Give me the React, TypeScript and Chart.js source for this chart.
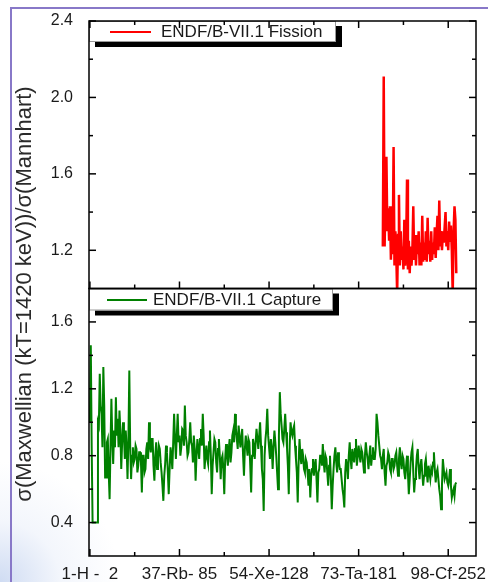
import React, { useEffect, useRef } from 'react';
import { Chart, registerables } from 'chart.js';

Chart.register(...registerables);

// ---- data ----
const X_MAJOR = [0, 100, 200, 300, 400];
const X_MINOR = [50, 150, 250, 350];
const X_LABELS = ['1-H -  2', '37-Rb- 85', '54-Xe-128', '73-Ta-181', '98-Cf-252'];

const TOP_MAJOR = [1.2, 1.6, 2.0, 2.4];
const TOP_MINOR = [1.4, 1.8, 2.2];
const BOT_MAJOR = [0.4, 0.8, 1.2, 1.6];
const BOT_MINOR = [0.6, 1.0, 1.4];

const Y_TITLE = 'σ(Maxwellian (kT=1420 keV))/σ(Mannhart)';
const FISSION_LABEL = 'ENDF/B-VII.1 Fission';
const CAPTURE_LABEL = 'ENDF/B-VII.1 Capture';

// material index of the first point (one value per material)
const CAPTURE_START = 0;
const CAPTURE = [
  1.00, 1.46, 0.85, 0.40, 0.40, 0.40, 0.40, 0.40, 0.40, 1.00, 0.98, 1.29, 1.10, 1.05, 0.85, 1.33, 1.10, 0.67, 0.67, 0.88,
  0.90, 0.70, 0.54, 0.85, 1.14, 0.90, 0.75, 0.95, 0.85, 1.15, 0.92, 1.02, 0.85, 1.07, 0.95, 0.72, 0.88, 1.00, 0.92, 0.78,
  0.95, 0.85, 0.66, 0.90, 1.31, 0.85, 0.66, 0.80, 0.85, 0.76, 0.78, 0.86, 0.84, 0.70, 0.74, 0.82, 0.82, 0.76, 0.58, 0.80,
  0.80, 0.70, 0.72, 0.84, 0.88, 0.78, 1.00, 0.86, 0.82, 0.90, 0.90, 0.74, 0.65, 0.80, 0.88, 0.72, 0.78, 0.86, 0.84, 0.76,
  0.70, 0.62, 0.53, 0.68, 0.75, 0.86, 0.82, 0.70, 0.57, 0.72, 0.85, 0.80, 0.72, 0.88, 1.05, 0.90, 0.78, 0.92, 1.05, 0.88,
  0.92, 0.80, 0.85, 0.96, 0.95, 0.86, 1.10, 0.92, 0.88, 0.80, 0.82, 0.90, 1.00, 0.88, 0.86, 0.76, 0.92, 0.84, 0.65, 0.80,
  0.90, 0.84, 0.78, 0.90, 0.96, 0.86, 1.05, 0.92, 0.72, 0.80, 0.86, 0.78, 0.75, 0.88, 0.95, 0.80, 0.57, 0.74, 0.82, 0.90,
  0.88, 0.76, 0.70, 0.84, 0.90, 0.80, 0.66, 0.78, 0.80, 0.72, 0.57, 0.78, 0.87, 0.80, 0.74, 0.84, 0.90, 0.76, 0.82, 0.92,
  0.95, 0.88, 1.05, 0.96, 0.90, 0.84, 0.98, 0.92, 0.85, 0.90, 0.96, 0.80, 0.68, 0.84, 0.92, 0.86, 0.80, 0.90, 0.88, 0.74,
  0.58, 0.80, 0.90, 0.86, 0.78, 0.88, 0.96, 0.90, 0.84, 0.92, 1.00, 0.86, 0.72, 0.66, 0.47, 0.80, 0.90, 0.96, 1.08, 0.92,
  0.85, 0.78, 0.90, 0.84, 0.72, 0.86, 0.95, 0.88, 0.80, 0.70, 0.60, 0.92, 1.18, 1.05, 0.98, 0.90, 0.88, 0.96, 1.05, 0.94,
  0.85, 0.74, 0.57, 0.86, 1.00, 0.94, 0.92, 0.96, 0.98, 0.86, 0.78, 0.70, 0.52, 0.76, 0.90, 0.80, 0.75, 0.84, 0.80, 0.72,
  0.70, 0.78, 0.76, 0.70, 0.62, 0.72, 0.55, 0.68, 0.72, 0.78, 0.68, 0.74, 0.78, 0.66, 0.52, 0.70, 0.72, 0.80, 0.80, 0.74,
  0.87, 0.76, 0.70, 0.80, 0.78, 0.70, 0.62, 0.74, 0.80, 0.66, 0.48, 0.62, 0.72, 0.80, 0.85, 0.76, 0.70, 0.82, 0.76, 0.72,
  0.72, 0.66, 0.60, 0.56, 0.49, 0.70, 0.78, 0.74, 0.66, 0.80, 0.88, 0.78, 0.72, 0.84, 0.80, 0.76, 0.84, 0.90, 0.74, 0.80,
  0.86, 0.80, 0.76, 0.84, 0.82, 0.76, 0.70, 0.80, 0.88, 0.82, 0.78, 0.72, 0.80, 0.86, 0.74, 0.80, 0.85, 0.78, 0.78, 0.84,
  1.05, 1.00, 0.92, 0.86, 0.80, 0.78, 0.72, 0.80, 0.84, 0.70, 0.62, 0.74, 0.76, 0.82, 0.80, 0.72, 0.70, 0.78, 0.78, 0.72,
  0.74, 0.80, 0.82, 0.74, 0.68, 0.78, 0.85, 0.76, 0.72, 0.80, 0.78, 0.70, 0.66, 0.74, 0.80, 0.70, 0.57, 0.66, 0.76, 0.82,
  0.85, 0.70, 0.58, 0.66, 0.72, 0.80, 0.84, 0.72, 0.66, 0.74, 0.78, 0.70, 0.62, 0.68, 0.75, 0.78, 0.70, 0.64, 0.74, 0.70,
  0.66, 0.72, 0.70, 0.76, 0.82, 0.72, 0.64, 0.70, 0.72, 0.66, 0.60, 0.56, 0.48, 0.62, 0.78, 0.72, 0.66, 0.68, 0.70, 0.64,
  0.62, 0.66, 0.72, 0.62, 0.55, 0.58, 0.60, 0.56, 0.63, 0.64,
];

const FISSION_START = 327;
const FISSION = [
  1.22, 2.11, 1.22, 1.50, 1.69, 1.30, 1.42, 1.25, 1.43, 1.15,
  1.32, 1.18, 1.74, 1.12, 1.30, 1.18, 0.97, 1.28, 1.49, 1.12,
  1.30, 1.15, 1.22, 1.10, 1.36, 1.12, 1.20, 1.57, 1.10, 1.25,
  1.08, 1.22, 1.12, 1.20, 1.43, 1.15, 1.28, 1.12, 1.25, 1.18,
  1.30, 1.12, 1.24, 1.12, 1.38, 1.14, 1.24, 1.15, 1.30, 1.14,
  1.37, 1.18, 1.25, 1.14, 1.30, 1.15, 1.24, 1.18, 1.32, 1.16,
  1.28, 1.38, 1.20, 1.46, 1.22, 1.30, 1.20, 1.28, 1.24, 1.32,
  1.40, 1.22, 1.30, 1.20, 1.35, 1.25, 1.33, 1.20, 0.97, 1.30,
  1.43, 1.36, 1.08,
];

const FONT = '"Liberation Sans", Arial, sans-serif';

const decorPlugin = {
  id: 'decor',
  afterDraw(chart: any) {
    const ctx = chart.ctx as CanvasRenderingContext2D;
    const xs = chart.scales.x;
    const yTop = chart.scales.yTop;
    const yBot = chart.scales.yBot;
    const L = xs.left;
    const R = xs.right;

    ctx.save();

    // legends
    const legends = [
      { s: yTop, text: FISSION_LABEL, color: '#ff0000', w: 247, h: 21, l0: 21, l1: 62, tx: 72 },
      { s: yBot, text: CAPTURE_LABEL, color: '#008000', w: 244, h: 22, l0: 18, l1: 58, tx: 64 },
    ];
    for (const lg of legends) {
      const x0 = L;
      const y0 = lg.s.top;
      ctx.fillStyle = '#000';
      ctx.fillRect(x0 + 6, y0 + 5, lg.w, lg.h);
      ctx.fillStyle = '#fff';
      ctx.fillRect(x0, y0, lg.w, lg.h);
      ctx.strokeStyle = '#9a9a9a';
      ctx.lineWidth = 1;
      ctx.strokeRect(x0 + 0.5, y0 + 0.5, lg.w - 1, lg.h - 1);
      ctx.strokeStyle = lg.color;
      ctx.lineWidth = 2;
      ctx.beginPath();
      ctx.moveTo(x0 + lg.l0, y0 + lg.h / 2 + 0.5);
      ctx.lineTo(x0 + lg.l1, y0 + lg.h / 2 + 0.5);
      ctx.stroke();
      ctx.fillStyle = '#1a1a1a';
      ctx.font = `17px ${FONT}`;
      ctx.textAlign = 'left';
      ctx.textBaseline = 'middle';
      ctx.fillText(lg.text, x0 + lg.tx, y0 + lg.h / 2 + 1);
    }

    // panel frames
    ctx.strokeStyle = '#000';
    ctx.lineWidth = 1.5;
    for (const s of [yTop, yBot]) {
      ctx.strokeRect(L, s.top, R - L, s.bottom - s.top);
    }

    const line = (x1: number, y1: number, x2: number, y2: number) => {
      ctx.beginPath();
      ctx.moveTo(x1, y1);
      ctx.lineTo(x2, y2);
      ctx.stroke();
    };
    const MAJ = 7;
    const MIN = 4;

    // x ticks
    const xTick = (v: number, y: number, dir: number, len: number) => {
      const px = xs.getPixelForValue(v);
      line(px, y, px, y + dir * len);
    };
    for (const v of X_MAJOR) {
      xTick(v, yTop.top, 1, MAJ);
      xTick(v, yTop.bottom, -1, MAJ);
      xTick(v, yBot.bottom, -1, MAJ);
    }
    for (const v of X_MINOR) {
      xTick(v, yTop.top, 1, MIN);
      xTick(v, yTop.bottom, -1, MIN);
      xTick(v, yBot.bottom, -1, MIN);
    }

    // y ticks
    const yTick = (s: any, v: number, len: number) => {
      const py = s.getPixelForValue(v);
      line(L, py, L + len, py);
      line(R, py, R - len, py);
    };
    for (const v of TOP_MAJOR) yTick(yTop, v, MAJ);
    for (const v of TOP_MINOR) yTick(yTop, v, MIN);
    for (const v of BOT_MAJOR) yTick(yBot, v, MAJ);
    for (const v of BOT_MINOR) yTick(yBot, v, MIN);

    // y title
    ctx.translate(31, 294);
    ctx.rotate(-Math.PI / 2);
    ctx.fillStyle = '#2a2a2a';
    ctx.font = `22px ${FONT}`;
    ctx.textAlign = 'center';
    ctx.textBaseline = 'alphabetic';
    ctx.fillText(Y_TITLE, 0, 0);

    ctx.restore();
  },
};

export default function App() {
  const ref = useRef<HTMLCanvasElement | null>(null);

  useEffect(() => {
    if (!ref.current) return;
    const captureData = CAPTURE.map((y, i) => ({ x: CAPTURE_START + i, y }));
    const fissionData = FISSION.map((y, i) => ({ x: FISSION_START + i, y }));

    const tickFont = { family: FONT, size: 16 };

    const chart = new Chart(ref.current, {
      type: 'line',
      data: {
        datasets: [
          {
            label: CAPTURE_LABEL,
            data: captureData,
            yAxisID: 'yBot',
            borderColor: '#008000',
            borderWidth: 2,
            pointRadius: 0,
            tension: 0,
            fill: false,
            clip: 0,
          },
          {
            label: FISSION_LABEL,
            data: fissionData,
            yAxisID: 'yTop',
            borderColor: '#ff0000',
            borderWidth: 2.5,
            pointRadius: 0,
            tension: 0,
            fill: false,
            clip: 0,
          },
        ],
      },
      options: {
        responsive: false,
        animation: false,
        devicePixelRatio: 1,
        layout: { padding: { left: 0, right: 12, top: 21, bottom: 0 } },
        plugins: { legend: { display: false }, tooltip: { enabled: false } },
        scales: {
          x: {
            type: 'linear',
            min: -1,
            max: 431,
            grid: { display: false },
            border: { display: false },
            afterBuildTicks: (s: any) => {
              s.ticks = X_MAJOR.map((v) => ({ value: v }));
            },
            afterFit: (s: any) => {
              s.height = 26;
            },
            ticks: {
              autoSkip: false,
              maxRotation: 0,
              minRotation: 0,
              padding: 0,
              color: '#1a1a1a',
              font: { family: FONT, size: 17 },
              callback: (v: any) => {
                const i = X_MAJOR.indexOf(Number(v));
                return i >= 0 ? X_LABELS[i] : '';
              },
            },
          },
          yBot: {
            type: 'linear',
            position: 'left',
            stack: 'panels',
            stackWeight: 1,
            min: 0.2,
            max: 1.8,
            grid: { display: false },
            border: { display: false },
            afterBuildTicks: (s: any) => {
              s.ticks = BOT_MAJOR.map((v) => ({ value: v }));
            },
            afterFit: (s: any) => {
              s.width = 89;
            },
            ticks: {
              padding: 8,
              color: '#1a1a1a',
              font: tickFont,
              callback: (v: any) => Number(v).toFixed(1),
            },
          },
          yTop: {
            type: 'linear',
            position: 'left',
            stack: 'panels',
            stackWeight: 1,
            min: 1.0,
            max: 2.4,
            grid: { display: false },
            border: { display: false },
            afterBuildTicks: (s: any) => {
              s.ticks = TOP_MAJOR.map((v) => ({ value: v }));
            },
            afterFit: (s: any) => {
              s.width = 89;
            },
            ticks: {
              padding: 8,
              color: '#1a1a1a',
              font: tickFont,
              callback: (v: any) => Number(v).toFixed(1),
            },
          },
        },
      },
      plugins: [decorPlugin],
    } as any);

    return () => chart.destroy();
  }, []);

  return (
    <div
      style={{
        position: 'fixed',
        left: 0,
        top: 0,
        width: 488,
        height: 582,
        overflow: 'hidden',
        background:
          'radial-gradient(circle at 0% 100%, rgba(205,218,242,0.95) 0px, rgba(235,240,250,0.6) 60px, rgba(255,255,255,0) 120px), #ffffff',
      }}
    >
      <div
        style={{
          position: 'absolute',
          left: 10,
          top: 7,
          right: -10,
          bottom: -10,
          borderTop: '2px solid #8878c8',
          borderLeft: '2px solid #8878c8',
        }}
      />
      <canvas
        ref={ref}
        width={488}
        height={582}
        style={{ position: 'absolute', left: 0, top: 0, display: 'block' }}
      />
    </div>
  );
}
